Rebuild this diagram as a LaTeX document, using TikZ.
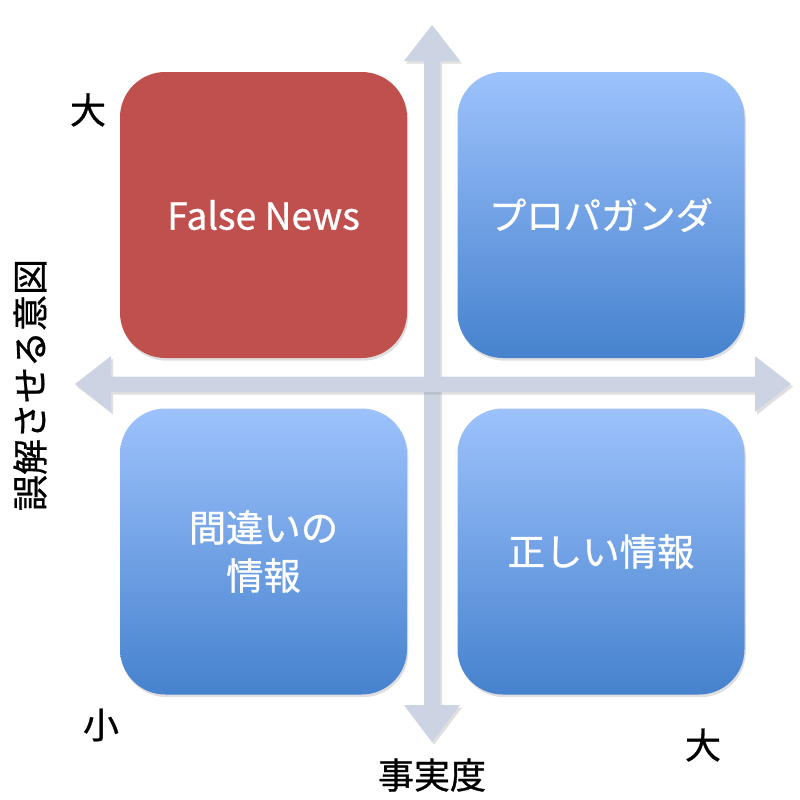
\documentclass[tikz,border=0pt]{standalone}
\usepackage{fontspec}
\newfontfamily\jp[FakeBold=0.8]{Noto Sans CJK JP}
\usetikzlibrary{shadows}
\definecolor{axiscol}{RGB}{204,212,228}
\definecolor{redbox}{RGB}{192,80,77}
\definecolor{bluetop}{RGB}{157,194,252}
\definecolor{bluemid}{RGB}{130,172,238}
\definecolor{bluebot}{RGB}{70,130,206}
\tikzset{
  quad/.style={minimum width=215.25pt, minimum height=214.5pt, rounded corners=34pt,
    draw=none, text=white, font=\jp\fontsize{28}{36}\selectfont, align=center,
    drop shadow={shadow xshift=1pt, shadow yshift=-2pt, opacity=0.25}},
  bluequad/.style={quad, top color=bluetop, middle color=bluemid, bottom color=bluebot},
  redquad/.style={quad, fill=redbox},
  axislabel/.style={font=\jp\fontsize{27}{32}\selectfont, text=black, inner sep=0pt},
  axisshape/.style={fill=axiscol, draw=none,
    drop shadow={shadow xshift=1.5pt, shadow yshift=-2pt, opacity=0.25}}
}
\begin{document}
\begin{tikzpicture}[x=0.75pt, y=-0.75pt]
\useasboundingbox (0,0) rectangle (800,800);
% axes
\fill[axisshape] (432,25) -- (460,61) -- (440,61) -- (440,705) -- (460,705) -- (432,742)
  -- (404,705) -- (424,705) -- (424,61) -- (404,61) -- cycle;
\fill[axisshape] (75,384) -- (111,356) -- (111,376.5) -- (755,376.5) -- (755,356) -- (791,384)
  -- (755,412) -- (755,392) -- (111,392) -- (111,412) -- cycle;
% quadrants
\node[redquad]  (fn)   at (263.5,215) {False News};
\node[bluequad] (prop) at (601,215) {プロパガンダ};
\node[bluequad] (mis)  at (263.5,551.5) {間違いの\\情報};
\node[bluequad] (true) at (601,551.5) {正しい情報};
% labels
\node[axislabel] (ybig)   at (88,110) {大};
\node[axislabel] (small)  at (101,725) {小};
\node[axislabel] (xbig)   at (703,745) {大};
\node[axislabel] (xlab)   at (432,775) {事実度};
\node[axislabel, rotate=90] (ylab) at (30,385) {誤解させる意図};
\end{tikzpicture}
\end{document}
